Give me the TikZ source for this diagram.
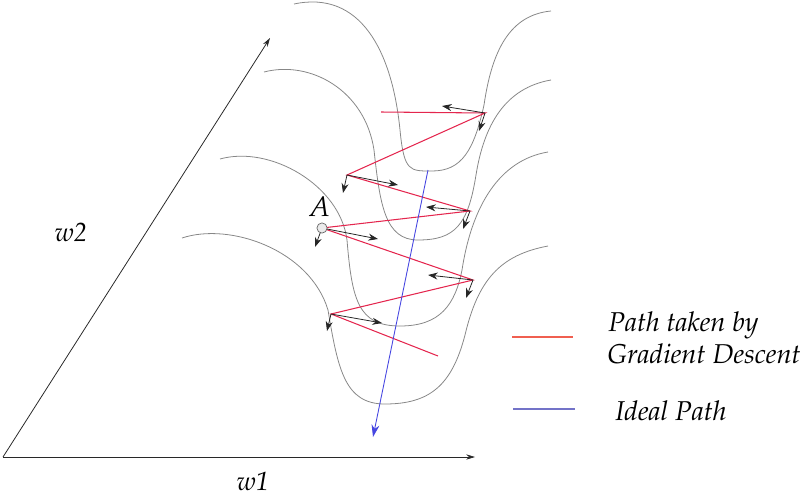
\documentclass[tikz,border=0pt]{standalone}
\usepackage[T1]{fontenc}
\usepackage{mathpazo}
\usetikzlibrary{arrows.meta}
\definecolor{contour}{RGB}{135,135,135}
\definecolor{gdred}{RGB}{228,38,78}
\definecolor{ideal}{RGB}{70,70,225}
\definecolor{axis}{RGB}{40,40,40}
\definecolor{legred}{RGB}{240,95,80}
\definecolor{legblue}{RGB}{115,115,200}
\begin{document}
\begin{tikzpicture}[x=0.02cm,y=-0.02cm,
  contourline/.style={draw=contour,line width=0.45pt},
  gdpath/.style={draw=gdred,line width=0.6pt},
  grad/.style={draw=black!85,line width=0.45pt,-{Stealth[length=5.5pt,width=4pt]}},
  axisline/.style={draw=axis,line width=0.45pt,-{Stealth[length=5pt,width=3pt]}},
  lbl/.style={font=\fontsize{15.5}{18}\selectfont\itshape,inner sep=0pt},
  axlbl/.style={font=\fontsize{15}{18}\selectfont\itshape,inner sep=0pt}]
\useasboundingbox (0,0) rectangle (800,497);
% contour curves
\draw[contourline] (294,4) .. controls (360,-10) and (392,50) .. (400,130)
  .. controls (404,172) and (410,171) .. (432,171)
  .. controls (462,171) and (474,150) .. (484,105)
  .. controls (492,50) and (510,15) .. (551,11);
\draw[contourline] (264,72) .. controls (310,60) and (365,90) .. (374,150)
  .. controls (380,205) and (385,240) .. (418,240)
  .. controls (455,240) and (468,225) .. (476,175)
  .. controls (484,125) and (505,88) .. (551,80);
\draw[contourline] (220,159) .. controls (270,145) and (340,185) .. (347,240)
  .. controls (352,300) and (358,326) .. (400,326)
  .. controls (440,326) and (455,305) .. (462,270)
  .. controls (472,205) and (500,160) .. (548,152);
\draw[contourline] (182,238) .. controls (230,222) and (310,250) .. (328,310)
  .. controls (338,370) and (345,404) .. (385,404)
  .. controls (430,404) and (452,385) .. (465,335)
  .. controls (478,280) and (500,255) .. (548,246);
% axes
\coordinate (O) at (3,457);
\coordinate (W1) at (475,457);
\coordinate (W2) at (270,38);
\draw[axisline] (O) -- (W1);
\draw[axisline] (O) -- (W2);
\node[axlbl] (w1) at (253,481) {w1};
\node[axlbl] (w2) at (71,232) {w2};
% gradient descent path points
\coordinate (P0) at (381,112);
\coordinate (P1) at (485,113);
\coordinate (P2) at (347,175);
\coordinate (P3) at (470,211);
\coordinate (A) at (322,228);
\coordinate (P4) at (473,280);
\coordinate (P5) at (331,314);
\coordinate (P6) at (438,356);
\draw[gdpath] (P0) -- (P1) -- (P2) -- (P3) -- (A) -- (P4) -- (P5) -- (P6);
% gradient component arrows
\coordinate (P1l) at (442,106); \coordinate (P1d) at (479,131);
\coordinate (P2r) at (398,185); \coordinate (P2d) at (343,193);
\coordinate (P3l) at (426,207); \coordinate (P3d) at (463,229);
\coordinate (Ar) at (378,239); \coordinate (Ad) at (315,247);
\coordinate (P4l) at (428,275); \coordinate (P4d) at (466,298);
\coordinate (P5r) at (382,323); \coordinate (P5d) at (327,331);
\draw[grad] (P1) -- (P1l);
\draw[grad] (P1) -- (P1d);
\draw[grad] (P2) -- (P2r);
\draw[grad] (P2) -- (P2d);
\draw[grad] (P3) -- (P3l);
\draw[grad] (P3) -- (P3d);
\draw[grad] (A) -- (Ar);
\draw[grad] (A) -- (Ad);
\draw[grad] (P4) -- (P4l);
\draw[grad] (P4) -- (P4d);
\draw[grad] (P5) -- (P5r);
\draw[grad] (P5) -- (P5d);
% point A
\node[circle,draw=black!60,fill=black!8,line width=0.4pt,minimum size=5.8pt,inner sep=0pt] (Adot) at (A) {};
\node[font=\fontsize{16}{18}\selectfont,inner sep=0pt] (Alabel) at (319,207) {$A$};
% ideal path
\coordinate (I0) at (428,170);
\coordinate (I1) at (373,437);
\draw[draw=ideal,line width=0.5pt,-{Stealth[length=7pt,width=4.5pt]}] (I0) -- (I1);
% legend
\coordinate (L1a) at (512,337); \coordinate (L1b) at (573,337);
\coordinate (L2a) at (513,409); \coordinate (L2b) at (575,409);
\draw[draw=legred,line width=0.6pt] (L1a) -- (L1b);
\draw[draw=legblue,line width=0.6pt] (L2a) -- (L2b);
\node[lbl,anchor=base west] (t1) at (608,331) {Path taken by};
\node[lbl,anchor=base west] (t2) at (607,363) {Gradient Descent};
\node[lbl,anchor=base west] (t3) at (615,420) {Ideal Path};
\end{tikzpicture}
\end{document}
